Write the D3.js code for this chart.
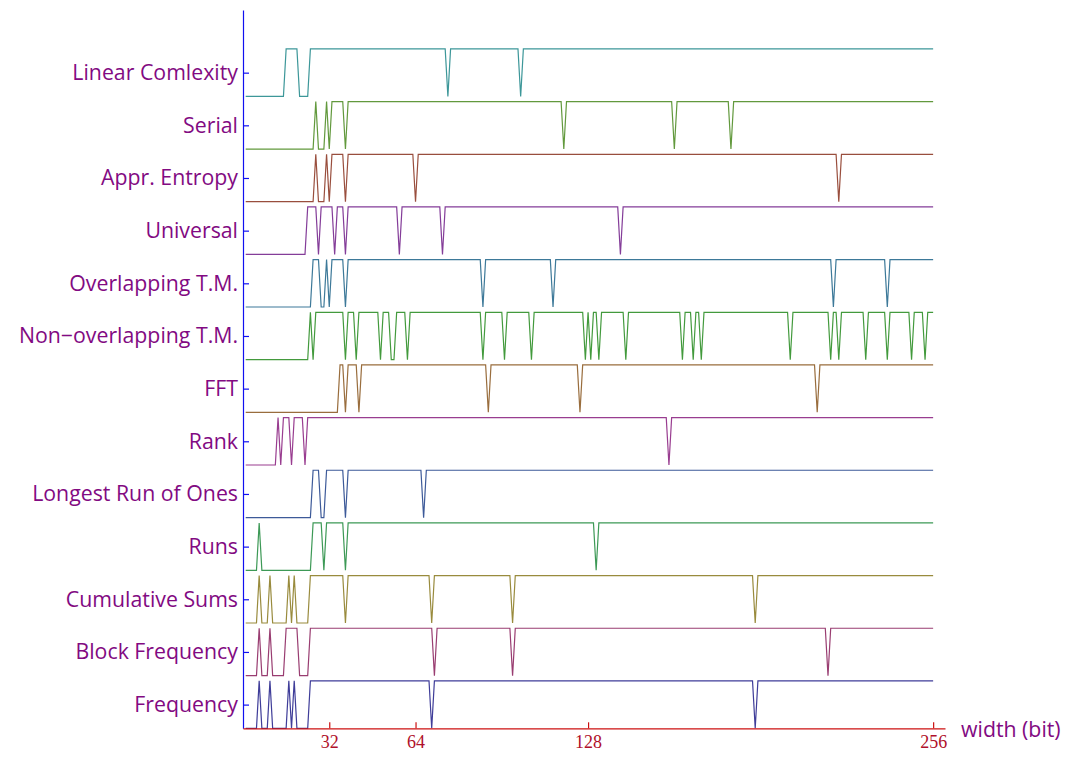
<!DOCTYPE html>
<html>
<head>
<meta charset="utf-8">
<script src="https://cdn.jsdelivr.net/npm/d3@7"></script>
<style>
  body { margin: 0; background: #fff; }
</style>
</head>
<body>
<svg id="chart" width="1073" height="757"></svg>
<script>
// Tests, bottom row first
const testNames = [
    'Frequency', 'Block Frequency', 'Cumulative Sums', 'Runs', 'Longest Run of Ones',
    'Rank', 'FFT', 'Non\u2212overlapping T.M.', 'Overlapping T.M.', 'Universal',
    'Appr. Entropy', 'Serial', 'Linear Comlexity'
];

// Widths (bit) where each test failed; all other widths 1..256 passed
const frequencyFails = [1, 2, 3, 4, 5, 7, 8, 9, 11, 12, 13, 14, 15, 16, 18, 20, 21, 22, 23, 24, 70, 190];
const blockFrequencyFails = [1, 2, 3, 4, 5, 7, 8, 9, 11, 12, 13, 14, 15, 21, 22, 23, 24, 71, 100, 217];
const cumulativeSumsFails = [1, 2, 3, 4, 5, 7, 8, 9, 11, 12, 13, 14, 15, 16, 18, 20, 21, 22, 23, 24, 38, 70, 100, 190];
const runsFails = [1, 2, 3, 4, 5, 7, 8, 9, 10, 11, 12, 13, 14, 15, 16, 17, 18, 19, 20, 21, 22, 23, 24, 25, 30, 38, 131];
const longestRunFails = [1, 2, 3, 4, 5, 6, 7, 8, 9, 10, 11, 12, 13, 14, 15, 16, 17, 18, 19, 20, 21, 22, 23, 24, 25, 29, 30, 38, 67];
const rankFails = [1, 2, 3, 4, 5, 6, 7, 8, 9, 10, 11, 12, 14, 18, 23, 158];
const fftFails = [1, 2, 3, 4, 5, 6, 7, 8, 9, 10, 11, 12, 13, 14, 15, 16, 17, 18, 19, 20, 21, 22, 23, 24, 25,
    26, 27, 28, 29, 30, 31, 32, 33, 34, 35, 38, 43, 91, 125, 213];
const nonOverlappingFails = [1, 2, 3, 4, 5, 6, 7, 8, 9, 10, 11, 12, 13, 14, 15, 16, 17, 18, 19, 20, 21, 22, 23, 24,
    26, 38, 42, 51, 55, 56, 61, 89, 97, 107, 127, 129, 132, 142, 163, 167, 170, 203, 218, 221, 231, 239, 248, 253];
const overlappingFails = [1, 2, 3, 4, 5, 6, 7, 8, 9, 10, 11, 12, 13, 14, 15, 16, 17, 18, 19, 20, 21, 22, 23, 24, 25,
    29, 30, 32, 38, 89, 115, 219, 239];
const universalFails = [1, 2, 3, 4, 5, 6, 7, 8, 9, 10, 11, 12, 13, 14, 15, 16, 17, 18, 19, 20, 21, 22, 23,
    28, 34, 38, 58, 74, 140];
const apprEntropyFails = [1, 2, 3, 4, 5, 6, 7, 8, 9, 10, 11, 12, 13, 14, 15, 16, 17, 18, 19, 20, 21, 22, 23, 24, 25, 26,
    28, 29, 30, 32, 38, 64, 221];
const serialFails = [1, 2, 3, 4, 5, 6, 7, 8, 9, 10, 11, 12, 13, 14, 15, 16, 17, 18, 19, 20, 21, 22, 23, 24, 25, 26,
    28, 29, 30, 32, 38, 119, 160, 181];
const linearComplexityFails = [1, 2, 3, 4, 5, 6, 7, 8, 9, 10, 11, 12, 13, 14, 15, 21, 22, 23, 24, 76, 103];

const failsByTest = [
    frequencyFails, blockFrequencyFails, cumulativeSumsFails, runsFails, longestRunFails,
    rankFails, fftFails, nonOverlappingFails, overlappingFails, universalFails,
    apprEntropyFails, serialFails, linearComplexityFails
];

const widthTicks = [32, 64, 128, 256];
const widths = d3.range(1, 257);

// mathematica default plot style colours, same order as testNames
const lineColors = [
    '#3f3d99', '#993d71', '#998b3d', '#3d9956', '#3d5a99', '#993d90', '#996d3d',
    '#439a3d', '#3d7999', '#843d99', '#994e3d', '#62993d', '#3d9799'
];

const labelColor = '#820a82';
const labelFont = '"Open Sans", "Noto Sans", sans-serif';
const rowHeight = 0.9;

const svg = d3.select('#chart');

const x = d3.scaleLinear().domain([0, 260.4]).range([243, 945]);
const y = d3.scaleLinear().domain([0, 13.64]).range([728.3, 10]);

const line = d3.line()
    .x((d) => x(d.w))
    .y((d) => y(d.row + rowHeight * d.pass));

failsByTest.forEach((fails, row) => {
    const points = widths.map((w) => ({ w: w, row: row, pass: fails.includes(w) ? 0 : 1 }));
    svg.append('path').datum(points)
        .attr('fill', 'none')
        .attr('stroke', lineColors[row])
        .attr('stroke-width', 1.2)
        .attr('stroke-linejoin', 'miter')
        .attr('d', line);
});

// y axis: blue, ticks inward, test names on the left
const yAxis = d3.axisLeft(y)
    .tickValues(testNames.map((d, i) => i + rowHeight / 2))
    .tickFormat((d, i) => testNames[i])
    .tickSizeInner(-6)
    .tickSizeOuter(0)
    .tickPadding(5);

const gY = svg.append('g')
    .attr('transform', 'translate(' + x(0) + ',0)')
    .call(yAxis);
gY.select('.domain').attr('stroke', '#1010f0').attr('stroke-width', 1.2);
gY.selectAll('.tick line').attr('stroke', '#1010f0').attr('stroke-width', 1.2);
gY.selectAll('.tick text')
    .attr('fill', labelColor)
    .attr('font-family', labelFont)
    .attr('font-size', 21.3);

// x axis: red, ticks upward
const xAxis = d3.axisBottom(x)
    .tickValues(widthTicks)
    .tickSizeInner(-6)
    .tickSizeOuter(0)
    .tickPadding(7);

const gX = svg.append('g')
    .attr('transform', 'translate(0,' + y(0) + ')')
    .call(xAxis);
gX.select('.domain').attr('stroke', '#cc1010').attr('stroke-width', 1.2);
gX.selectAll('.tick line').attr('stroke', '#cc1010').attr('stroke-width', 1.2);
gX.selectAll('.tick text')
    .attr('fill', '#b0102a')
    .attr('font-family', '"Liberation Serif", "Times New Roman", serif')
    .attr('font-size', 18);

svg.append('text')
    .attr('x', 961)
    .attr('y', y(0) + 9)
    .attr('fill', labelColor)
    .attr('font-family', labelFont)
    .attr('font-size', 21.3)
    .text('width (bit)');
</script>
</body>
</html>
